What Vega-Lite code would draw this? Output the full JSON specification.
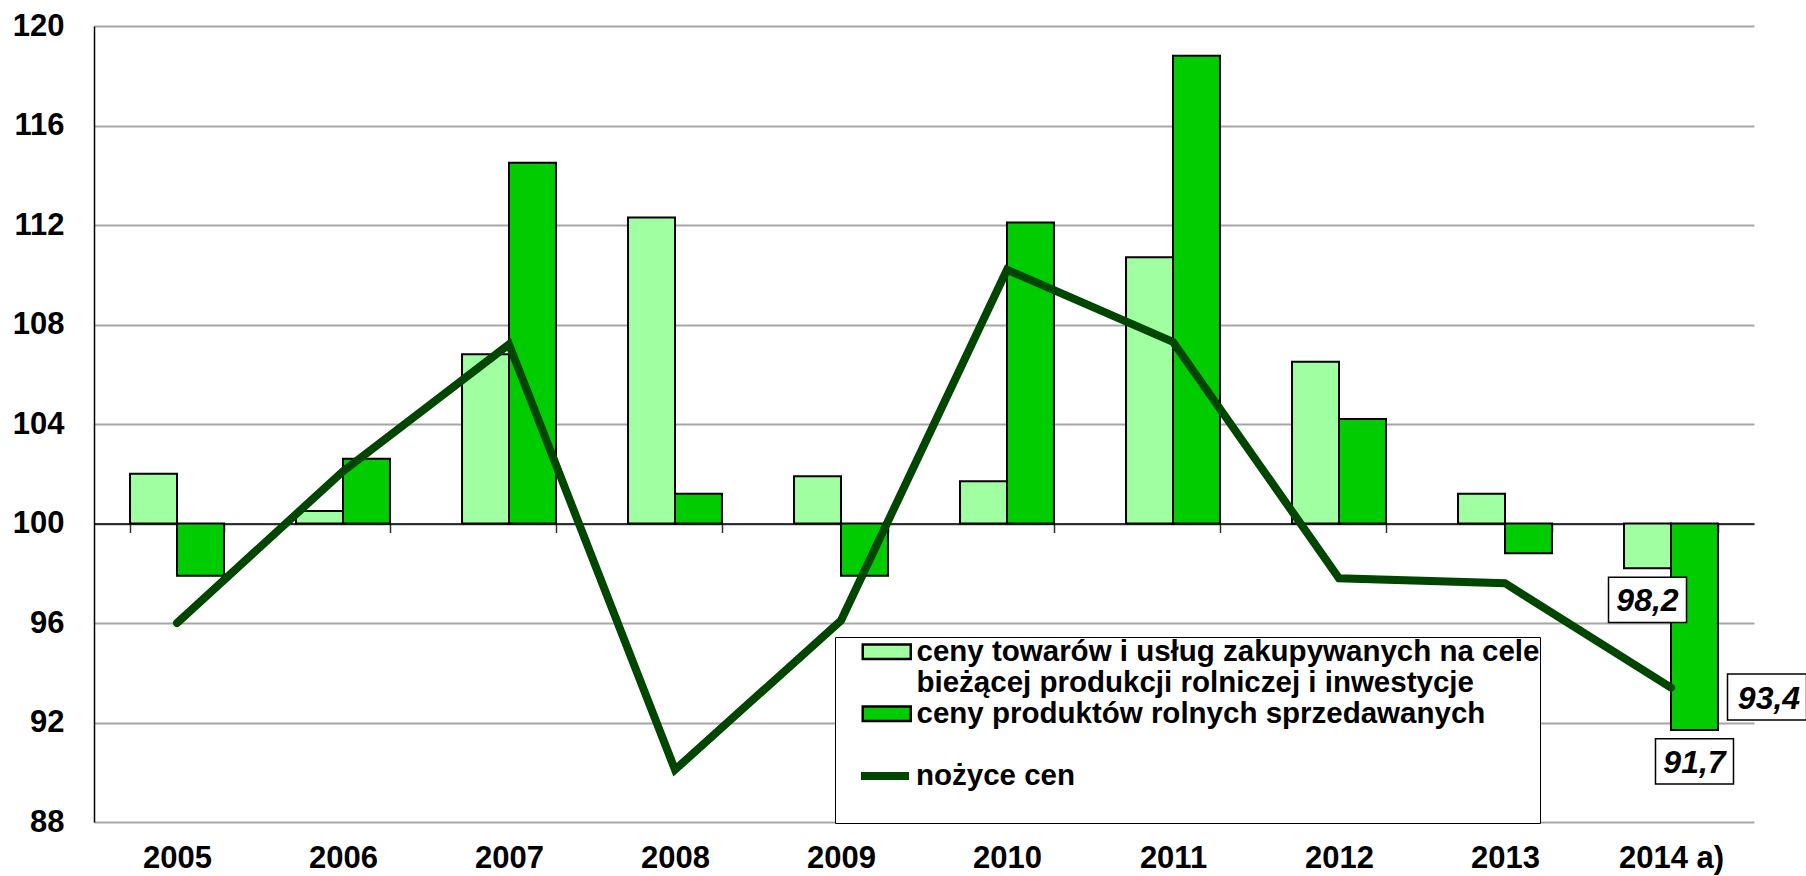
{
  "$schema": "https://vega.github.io/schema/vega-lite/v6.json",
  "width": 1660,
  "height": 796,
  "autosize": {"type": "none"},
  "padding": {"left": 94, "top": 26, "right": 52, "bottom": 54},
  "background": "white",
  "config": {
    "view": {"stroke": null},
    "font": "Liberation Sans",
    "locale": {"number": {"decimal": ",", "thousands": " ", "grouping": [3], "currency": ["", " zł"]}}
  },
  "datasets": {
    "bars": [
      {"year": "2005", "series": "ceny towarów i usług zakupywanych na cele bieżącej produkcji rolniczej i inwestycje", "value": 102.0},
      {"year": "2005", "series": "ceny produktów rolnych sprzedawanych", "value": 97.9},
      {"year": "2006", "series": "ceny towarów i usług zakupywanych na cele bieżącej produkcji rolniczej i inwestycje", "value": 100.5},
      {"year": "2006", "series": "ceny produktów rolnych sprzedawanych", "value": 102.6},
      {"year": "2007", "series": "ceny towarów i usług zakupywanych na cele bieżącej produkcji rolniczej i inwestycje", "value": 106.8},
      {"year": "2007", "series": "ceny produktów rolnych sprzedawanych", "value": 114.5},
      {"year": "2008", "series": "ceny towarów i usług zakupywanych na cele bieżącej produkcji rolniczej i inwestycje", "value": 112.3},
      {"year": "2008", "series": "ceny produktów rolnych sprzedawanych", "value": 101.2},
      {"year": "2009", "series": "ceny towarów i usług zakupywanych na cele bieżącej produkcji rolniczej i inwestycje", "value": 101.9},
      {"year": "2009", "series": "ceny produktów rolnych sprzedawanych", "value": 97.9},
      {"year": "2010", "series": "ceny towarów i usług zakupywanych na cele bieżącej produkcji rolniczej i inwestycje", "value": 101.7},
      {"year": "2010", "series": "ceny produktów rolnych sprzedawanych", "value": 112.1},
      {"year": "2011", "series": "ceny towarów i usług zakupywanych na cele bieżącej produkcji rolniczej i inwestycje", "value": 110.7},
      {"year": "2011", "series": "ceny produktów rolnych sprzedawanych", "value": 118.8},
      {"year": "2012", "series": "ceny towarów i usług zakupywanych na cele bieżącej produkcji rolniczej i inwestycje", "value": 106.5},
      {"year": "2012", "series": "ceny produktów rolnych sprzedawanych", "value": 104.2},
      {"year": "2013", "series": "ceny towarów i usług zakupywanych na cele bieżącej produkcji rolniczej i inwestycje", "value": 101.2},
      {"year": "2013", "series": "ceny produktów rolnych sprzedawanych", "value": 98.8},
      {"year": "2014 a)", "series": "ceny towarów i usług zakupywanych na cele bieżącej produkcji rolniczej i inwestycje", "value": 98.2},
      {"year": "2014 a)", "series": "ceny produktów rolnych sprzedawanych", "value": 91.7}
    ],
    "line": [
      {"year": "2005", "series": "nożyce cen", "value": 96.0},
      {"year": "2006", "series": "nożyce cen", "value": 102.1},
      {"year": "2007", "series": "nożyce cen", "value": 107.2},
      {"year": "2008", "series": "nożyce cen", "value": 90.1},
      {"year": "2009", "series": "nożyce cen", "value": 96.1},
      {"year": "2010", "series": "nożyce cen", "value": 110.2},
      {"year": "2011", "series": "nożyce cen", "value": 107.3},
      {"year": "2012", "series": "nożyce cen", "value": 97.8},
      {"year": "2013", "series": "nożyce cen", "value": 97.6},
      {"year": "2014 a)", "series": "nożyce cen", "value": 93.4}
    ]
  },
  "encoding": {
    "x": {
      "field": "year",
      "type": "nominal",
      "sort": null,
      "scale": {"paddingInner": 0.434, "paddingOuter": 0.217},
      "axis": {
        "title": null,
        "labelAngle": 0,
        "labelFont": "Liberation Sans",
        "labelFontSize": 31,
        "labelFontWeight": "bold",
        "labelColor": "#000",
        "offset": -298.5,
        "domainColor": "#000",
        "domainWidth": 1.5,
        "tickBand": "extent",
        "tickSize": 9,
        "tickColor": "#333",
        "tickWidth": 1.5,
        "labelPadding": 311,
        "grid": false
      }
    },
    "y": {
      "field": "value",
      "type": "quantitative",
      "scale": {"domain": [88, 120], "zero": false, "nice": false},
      "axis": {
        "title": null,
        "values": [88, 92, 96, 100, 104, 108, 112, 116, 120],
        "format": "d",
        "labelFont": "Liberation Sans",
        "labelFontSize": 31,
        "labelFontWeight": "bold",
        "labelColor": "#000",
        "labelPadding": 30,
        "ticks": false,
        "domainColor": "#000",
        "domainWidth": 1.5,
        "grid": true,
        "gridColor": "#a6a6a6",
        "gridWidth": 2
      }
    }
  },
  "layer": [
    {
      "data": {"name": "bars"},
      "mark": {"type": "bar", "stroke": "#000", "strokeWidth": 2, "opacity": 1},
      "encoding": {
        "xOffset": {"field": "series", "type": "nominal", "scale": {"domain": ["ceny towarów i usług zakupywanych na cele bieżącej produkcji rolniczej i inwestycje", "ceny produktów rolnych sprzedawanych"], "paddingInner": 0, "paddingOuter": 0}},
        "y2": {"datum": 100},
        "fill": {
          "field": "series",
          "type": "nominal",
          "scale": {
            "domain": ["ceny towarów i usług zakupywanych na cele bieżącej produkcji rolniczej i inwestycje", "ceny produktów rolnych sprzedawanych"],
            "range": ["#a0ffa0", "#00cc00"]
          },
          "legend": {
            "title": null,
            "orient": "none",
            "legendX": 741,
            "legendY": 611,
            "strokeColor": "#000",
            "fillColor": "#fff",
            "padding": 0,
            "rowPadding": 0,
            "symbolType": "M-4.8,-1.44H4.8V1.44H-4.8Z",
            "symbolSize": 100,
            "symbolOffset": 37,
            "symbolStrokeColor": "#000",
            "symbolStrokeWidth": 2.5,
            "symbolOpacity": 1,
            "labelOffset": 15,
            "labelFont": "Liberation Sans",
            "labelFontSize": 29.5,
            "labelFontWeight": "bold",
            "labelColor": "#000",
            "labelLimit": 900,
            "labelExpr": "datum.label == 'ceny produktów rolnych sprzedawanych' ? [datum.label, '', '', ''] : ['ceny towarów i usług zakupywanych na cele', 'bieżącej produkcji rolniczej i inwestycje']"
          }
        }
      }
    },
    {
      "data": {"name": "line"},
      "mark": {"type": "line", "strokeWidth": 8, "strokeCap": "round"},
      "encoding": {
        "stroke": {
          "field": "series",
          "type": "nominal",
          "scale": {"domain": ["nożyce cen"], "range": ["#004600"]},
          "legend": {
            "title": null,
            "orient": "none",
            "legendX": 763,
            "legendY": 722,
            "padding": 0,
            "symbolType": "stroke",
            "symbolSize": 2304,
            "symbolStrokeWidth": 8,
            "symbolOffset": 0,
            "labelOffset": 3,
            "labelFont": "Liberation Sans",
            "labelFontSize": 29.5,
            "labelFontWeight": "bold",
            "labelColor": "#000",
            "labelLimit": 900
          }
        }
      }
    },
    {
      "data": {"name": "bars"},
      "transform": [{"filter": "datum.year == '2014 a)'"}],
      "mark": {"type": "point", "shape": "M-1,-0.58H1V0.58H-1Z", "size": 6084, "filled": true, "fill": "#fff", "stroke": "#000", "strokeWidth": 1.5, "opacity": 1, "yOffset": 31.5},
      "encoding": {
        "xOffset": {"field": "series", "type": "nominal"}
      }
    },
    {
      "data": {"name": "bars"},
      "transform": [{"filter": "datum.year == '2014 a)'"}],
      "mark": {"type": "text", "font": "Liberation Sans", "fontSize": 32, "fontStyle": "italic", "fontWeight": "bold", "color": "#000", "baseline": "middle", "align": "center", "yOffset": 33},
      "encoding": {
        "xOffset": {"field": "series", "type": "nominal"},
        "text": {"field": "value", "type": "quantitative", "format": ".1f"}
      }
    },
    {
      "data": {"name": "line"},
      "transform": [{"filter": "datum.year == '2014 a)'"}],
      "mark": {"type": "point", "shape": "M-1,-0.58H1V0.58H-1Z", "size": 6241, "filled": true, "fill": "#fff", "stroke": "#000", "strokeWidth": 1.5, "opacity": 1, "xOffset": 96, "yOffset": 9.3},
      "encoding": {}
    },
    {
      "data": {"name": "line"},
      "transform": [{"filter": "datum.year == '2014 a)'"}],
      "mark": {"type": "text", "font": "Liberation Sans", "fontSize": 32, "fontStyle": "italic", "fontWeight": "bold", "color": "#000", "baseline": "middle", "align": "center", "xOffset": 98, "yOffset": 11},
      "encoding": {
        "text": {"field": "value", "type": "quantitative", "format": ".1f"}
      }
    }
  ]
}
